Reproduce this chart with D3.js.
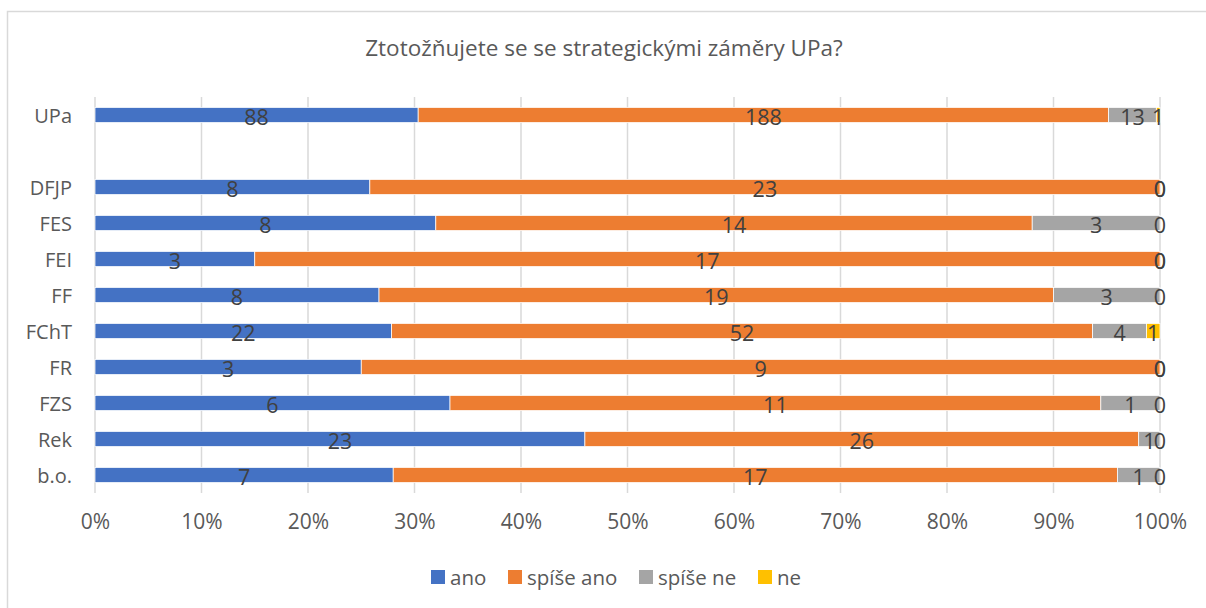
<!DOCTYPE html>
<html><head><meta charset="utf-8">
<script src="https://cdn.jsdelivr.net/npm/d3@7/dist/d3.min.js"></script>
<style>body{margin:0;background:#fff}svg{display:block}</style>
</head><body>
<script>
const title = "Ztotožňujete se se strategickými záměry UPa?";
const categories = ["UPa", "", "DFJP", "FES", "FEI", "FF", "FChT", "FR", "FZS", "Rek", "b.o."];
const seriesNames = ["ano", "spíše ano", "spíše ne", "ne"];
const ano      = [88, null, 8, 8, 3, 8, 22, 3, 6, 23, 7];
const spiseAno = [188, null, 23, 14, 17, 19, 52, 9, 11, 26, 17];
const spiseNe  = [13, null, 0, 3, 0, 3, 4, 0, 1, 1, 1];
const ne       = [1, null, 0, 0, 0, 0, 1, 0, 0, 0, 0];
const tickLabels = ["0%","10%","20%","30%","40%","50%","60%","70%","80%","90%","100%"];
const colors = ["#4472C4", "#ED7D31", "#A5A5A5", "#FFC000"];

const W = 1206, H = 608;
const font = "'Open Sans', 'Noto Sans', sans-serif";
const svg = d3.select("body").append("svg").attr("width", W).attr("height", H);
svg.append("rect").attr("x", 7.5).attr("y", 11.5).attr("width", 1220).attr("height", 620)
  .attr("fill", "#fff").attr("stroke", "#d9d9d9").attr("stroke-width", 1.5);

svg.append("text").attr("x", 604).attr("y", 47).attr("text-anchor", "middle")
  .attr("dominant-baseline", "central").attr("font-family", font).attr("font-size", 22.5)
  .attr("fill", "#595959").text(title);

const x = d3.scaleLinear().domain([0, 1]).range([95, 1160]);
const y = d3.scaleBand().domain(d3.range(categories.length)).range([97, 493]).paddingInner(0.58).paddingOuter(0.29);

const g = svg.append("g");
g.selectAll("line.grid").data(d3.range(0, 11)).join("line")
  .attr("x1", d => x(d / 10)).attr("x2", d => x(d / 10))
  .attr("y1", 97).attr("y2", 493).attr("stroke", "#d9d9d9").attr("stroke-width", 1.5);

const rows = categories.map((c, i) => ({c, i, vals: [ano[i], spiseAno[i], spiseNe[i], ne[i]]}));
const series = seriesNames.map((name, s) => ({name, s, segs: []}));
rows.forEach(r => {
  if (r.vals[0] === null) return;
  const total = d3.sum(r.vals);
  let cum = 0;
  r.vals.forEach((v, s) => {
    series[s].segs.push({i: r.i, v, x0: cum / total, x1: (cum + v) / total});
    cum += v;
  });
});

series.forEach(se => {
  g.append("g").selectAll("rect").data(se.segs.filter(d => d.v > 0)).join("rect")
    .attr("x", d => x(d.x0)).attr("width", d => x(d.x1) - x(d.x0))
    .attr("y", d => y(d.i)).attr("height", y.bandwidth())
    .attr("fill", colors[se.s]).attr("stroke", "#fff").attr("stroke-width", 0.75);
});
series.forEach(se => {
  g.append("g").selectAll("text").data(se.segs).join("text")
    .attr("x", d => x((d.x0 + d.x1) / 2)).attr("y", d => y(d.i) + y.bandwidth() / 2 + 1)
    .attr("text-anchor", "middle").attr("dominant-baseline", "central")
    .attr("font-family", font).attr("font-size", 21.5).attr("fill", "#404040")
    .text(d => d.v);
});

svg.append("g").selectAll("text").data(categories).join("text")
  .attr("x", 72).attr("y", (d, i) => y(i) + y.bandwidth() / 2)
  .attr("text-anchor", "end").attr("dominant-baseline", "central")
  .attr("font-family", font).attr("font-size", 20).attr("fill", "#595959").text(d => d);

const xAxis = d3.axisBottom(x).tickValues(d3.range(0, 11).map(d => d / 10))
  .tickFormat((d, i) => tickLabels[i]).tickSize(0).tickPadding(0);
const ax = svg.append("g").attr("transform", "translate(0,514)").call(xAxis);
ax.select(".domain").remove();
ax.selectAll("text").attr("font-family", font).attr("font-size", 21).attr("fill", "#595959");

const legX = [431, 508, 639, 758];
const leg = svg.append("g").selectAll("g").data(seriesNames).join("g")
  .attr("transform", (d, i) => `translate(${legX[i]},577)`);
leg.append("rect").attr("x", 0).attr("y", -7).attr("width", 14).attr("height", 14)
  .attr("fill", (d, i) => colors[i]);
leg.append("text").attr("x", 19).attr("y", 0).attr("dominant-baseline", "central")
  .attr("font-family", font).attr("font-size", 20.5).attr("fill", "#595959").text(d => d);
</script>
</body></html>
